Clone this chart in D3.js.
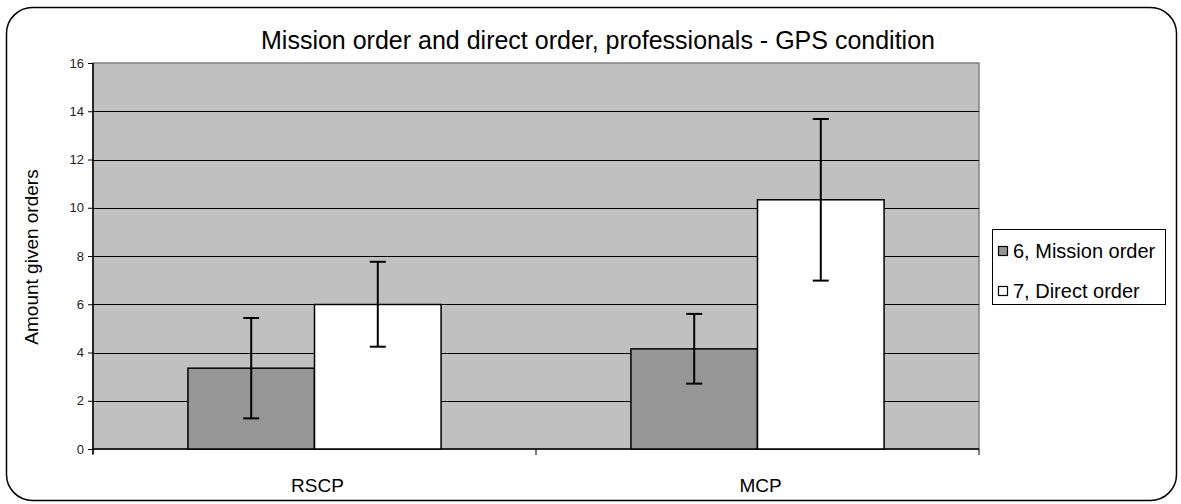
<!DOCTYPE html>
<html><head><meta charset="utf-8">
<script src="https://cdn.jsdelivr.net/npm/d3@7"></script>
<style>
html,body{margin:0;padding:0;background:#fff;}
svg{display:block;font-family:"Liberation Sans",Arial,sans-serif;}
</style></head>
<body>
<svg id="chart" width="1181" height="504"></svg>
<script>
const categories = ["RSCP", "MCP"];
const seriesNames = ["6, Mission order", "7, Direct order"];
const missionValues = [3.35, 4.15];
const directValues = [5.99, 10.33];
const missionLow = [1.27, 2.71];
const missionHigh = [5.43, 5.60];
const directLow = [4.24, 6.98];
const directHigh = [7.76, 13.68];
const yTicks = [0, 2, 4, 6, 8, 10, 12, 14, 16];
const title = "Mission order and direct order, professionals - GPS condition";
const yTitle = "Amount given orders";

const svg = d3.select("#chart");
const L = 93, R = 979, T = 63, B = 449;

// outer rounded border
svg.append("rect").attr("x", 6.5).attr("y", 7.5).attr("width", 1170).attr("height", 493)
  .attr("rx", 26).attr("ry", 26).attr("fill", "#fff").attr("stroke", "#000").attr("stroke-width", 1.5);

const x0 = d3.scaleBand().domain(categories).range([L, R]).paddingInner(0).paddingOuter(0);
const bw = x0.bandwidth() / 3.5;
const x1 = d3.scaleBand().domain(seriesNames).range([0, 2 * bw]);
const y = d3.scaleLinear().domain([0, 16]).range([B, T]);

// plot area
svg.append("rect").attr("x", L).attr("y", T).attr("width", R - L).attr("height", B - T)
  .attr("fill", "#c0c0c0").attr("stroke", "#808080").attr("stroke-width", 1.5);

// gridlines
svg.append("g").selectAll("line").data(yTicks.filter(d => d > 0 && d < 16)).join("line")
  .attr("x1", L).attr("x2", R).attr("y1", d => Math.round(y(d)) + 0.5).attr("y2", d => Math.round(y(d)) + 0.5)
  .attr("stroke", "#000").attr("stroke-width", 1.2);

// y axis
const yAxis = d3.axisLeft(y).tickValues(yTicks).tickSize(5).tickPadding(4).tickFormat(d3.format("d"));
const gy = svg.append("g").attr("transform", `translate(${L},0)`).call(yAxis);
gy.select(".domain").attr("stroke", "#000").attr("stroke-width", 1.5).attr("d", `M0,${T}V${B + 5}`);
gy.selectAll(".tick line").attr("stroke", "#000");
gy.selectAll(".tick text").attr("font-family", "Liberation Sans, Arial, sans-serif").attr("font-size", 13).attr("fill", "#222");

// x axis
const xAxis = d3.axisBottom(x0).tickSize(0).tickPadding(30);
const gx = svg.append("g").attr("transform", `translate(0,${B})`).call(xAxis);
gx.select(".domain").attr("stroke", "#000").attr("stroke-width", 1.5).attr("d", `M${L},0H${R}`);
gx.selectAll(".tick text").attr("font-family", "Liberation Sans, Arial, sans-serif").attr("font-size", 19).attr("fill", "#000")
  .attr("dx", 3);
// category separator ticks
const sepPos = [L, ...categories.slice(1).map(c => x0(c)), R];
svg.append("g").selectAll("line").data(sepPos).join("line")
  .attr("x1", d => d).attr("x2", d => d).attr("y1", B).attr("y2", B + 6)
  .attr("stroke", "#000").attr("stroke-width", 1);

// bars
const data = categories.map((c, i) => ({
  cat: c,
  items: [
    {s: seriesNames[0], v: missionValues[i], lo: missionLow[i], hi: missionHigh[i], fill: "#969696"},
    {s: seriesNames[1], v: directValues[i], lo: directLow[i], hi: directHigh[i], fill: "#ffffff"}
  ]
}));
const groupOffset = (x0.bandwidth() - 2 * bw) / 2;
const g = svg.append("g").selectAll("g").data(data).join("g")
  .attr("transform", d => `translate(${x0(d.cat) + groupOffset},0)`);
g.selectAll("rect").data(d => d.items).join("rect")
  .attr("x", d => x1(d.s)).attr("y", d => y(d.v)).attr("width", x1.bandwidth()).attr("height", d => y(0) - y(d.v))
  .attr("fill", d => d.fill).attr("stroke", "#000").attr("stroke-width", 1.5);

// error bars
const eb = g.selectAll("g.eb").data(d => d.items).join("g").attr("class", "eb");
eb.append("line").attr("x1", d => x1(d.s) + x1.bandwidth() / 2).attr("x2", d => x1(d.s) + x1.bandwidth() / 2)
  .attr("y1", d => y(d.lo)).attr("y2", d => y(d.hi)).attr("stroke", "#000").attr("stroke-width", 2);
["lo", "hi"].forEach(k => {
  eb.append("line").attr("x1", d => x1(d.s) + x1.bandwidth() / 2 - 8).attr("x2", d => x1(d.s) + x1.bandwidth() / 2 + 8)
    .attr("y1", d => y(d[k])).attr("y2", d => y(d[k])).attr("stroke", "#000").attr("stroke-width", 2);
});

// title
svg.append("text").attr("x", 598).attr("y", 49).attr("text-anchor", "middle")
  .attr("font-size", 25).attr("fill", "#000").text(title);

// y title
svg.append("text").attr("transform", `translate(38,${257}) rotate(-90)`).attr("text-anchor", "middle")
  .attr("font-size", 19).attr("fill", "#000").text(yTitle);

// legend
const lg = svg.append("g");
lg.append("rect").attr("x", 992.5).attr("y", 229.5).attr("width", 173).attr("height", 75)
  .attr("fill", "#fff").attr("stroke", "#000").attr("stroke-width", 1);
const legFills = ["#969696", "#ffffff"];
const legY = d3.scalePoint().domain(seriesNames).range([251, 291]);
seriesNames.forEach((s, i) => {
  lg.append("rect").attr("x", 998.5).attr("y", legY(s) - 4.5).attr("width", 9).attr("height", 9)
    .attr("fill", legFills[i]).attr("stroke", "#000").attr("stroke-width", 1.2);
  lg.append("text").attr("x", 1013).attr("y", legY(s) + 7).attr("font-size", 20).attr("fill", "#000").text(s);
});
</script>
</body></html>
